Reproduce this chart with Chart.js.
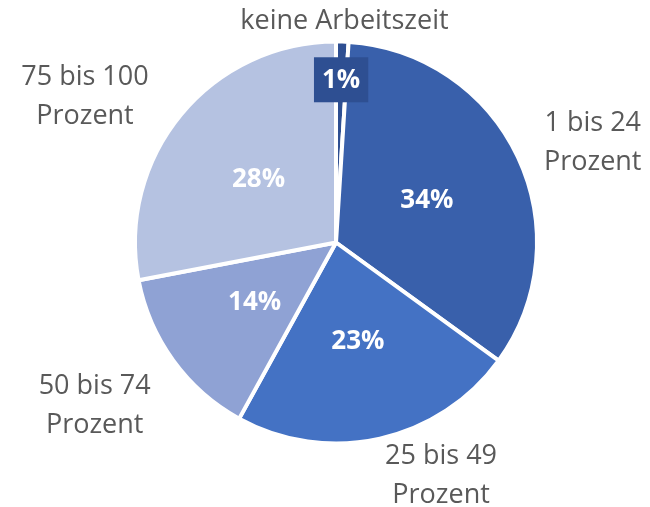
<!DOCTYPE html>
<html>
<head>
<meta charset="utf-8">
<script src="https://cdn.jsdelivr.net/npm/chart.js@4/dist/chart.umd.min.js"></script>
<style>
  html, body { margin: 0; padding: 0; background: #ffffff; }
  #wrap { width: 650px; height: 507px; }
</style>
</head>
<body>
<div id="wrap"><canvas id="c" width="650" height="507"></canvas></div>
<script>
// ---- data ----
const categories = ['keine Arbeitszeit', '1 bis 24 Prozent', '25 bis 49 Prozent', '50 bis 74 Prozent', '75 bis 100 Prozent'];
const labelLines = [['keine Arbeitszeit'], ['1 bis 24', 'Prozent'], ['25 bis 49', 'Prozent'], ['50 bis 74', 'Prozent'], ['75 bis 100', 'Prozent']];
const shares = [1, 34, 23, 14, 28];
const valueLabels = ['1%', '34%', '23%', '14%', '28%'];

// ---- style ----
const sliceColors = ['#2e4f92', '#3960ab', '#4472c4', '#8fa2d4', '#b5c2e1'];
const catFont = '27px "Open Sans"';
const valFont = 'bold 26px "Open Sans"';
const catColor = '#595959';
// placement of outside category labels: [angle offset from slice middle (deg), distance as share of radius]
const catPlace = [[0.4, 1.10], [4.0, 1.37], [-11.6, 1.275], [1.9, 1.45], [-9.4, 1.445]];
// placement of value labels: distance as share of radius
const valPlace = [0.81, 0.5, 0.5, 0.5, 0.5];
const valBox = [true, false, false, false, false];
const lineGap = 39;

const labelPlugin = {
  id: 'pieLabels',
  afterDatasetsDraw(chart) {
    const ctx = chart.ctx;
    const meta = chart.getDatasetMeta(0);
    meta.data.forEach((arc, i) => {
      const mid = (arc.startAngle + arc.endAngle) / 2;
      const R = arc.outerRadius;
      // value label
      const vr = R * valPlace[i];
      const vx = arc.x + Math.cos(mid) * vr;
      const vy = arc.y + Math.sin(mid) * vr;
      ctx.save();
      ctx.font = valFont;
      ctx.textAlign = 'center';
      ctx.textBaseline = 'middle';
      if (valBox[i]) {
        const w = ctx.measureText(valueLabels[i]).width + 16;
        const h = 45;
        ctx.fillStyle = sliceColors[i];
        ctx.fillRect(vx - w / 2, vy - h / 2, w, h);
      }
      ctx.fillStyle = '#ffffff';
      ctx.fillText(valueLabels[i], vx, vy + 1);
      // category label
      const [dAng, dist] = catPlace[i];
      const a = mid + dAng * Math.PI / 180;
      const cx = arc.x + Math.cos(a) * R * dist;
      const cy = arc.y + Math.sin(a) * R * dist;
      ctx.font = catFont;
      ctx.fillStyle = catColor;
      const lines = labelLines[i];
      lines.forEach((t, k) => {
        const y = cy + (k - (lines.length - 1) / 2) * lineGap;
        ctx.fillText(t, cx, y);
      });
      ctx.restore();
    });
  }
};

new Chart(document.getElementById('c'), {
  type: 'pie',
  data: {
    labels: categories,
    datasets: [{
      data: shares,
      backgroundColor: sliceColors,
      borderColor: '#ffffff',
      borderWidth: 4
    }]
  },
  options: {
    responsive: false,
    animation: false,
    layout: { padding: { left: 133, right: 111, top: 39, bottom: 61 } },
    plugins: {
      legend: { display: false },
      tooltip: { enabled: false }
    }
  },
  plugins: [labelPlugin]
});
</script>
</body>
</html>
